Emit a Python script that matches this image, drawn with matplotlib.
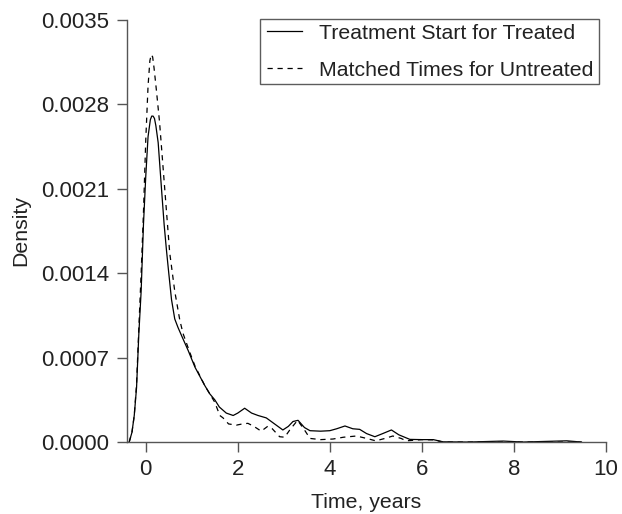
import matplotlib
matplotlib.use("Agg")
import matplotlib.pyplot as plt

plt.rcParams['font.family'] = ['Liberation Sans', 'DejaVu Sans']

# density curves (time in years)
treated_x = [-0.36, -0.30, -0.25, -0.20, -0.15, -0.10, -0.05, 0.00, 0.05, 0.10,
             0.13, 0.16, 0.19, 0.22, 0.27, 0.34, 0.40, 0.45, 0.50, 0.56, 0.63, 0.70,
             0.78, 0.92, 1.07, 1.28, 1.39, 1.50, 1.60, 1.75, 1.90, 2.00,
             2.15, 2.30, 2.44, 2.62, 2.80, 2.98, 3.10, 3.20, 3.31, 3.45,
             3.57, 3.80, 4.00, 4.15, 4.33, 4.50, 4.65, 4.80, 4.98, 5.15,
             5.34, 5.50, 5.74, 6.00, 6.25, 6.46, 7.00, 7.77, 8.20, 9.15, 9.47]
treated_y = [0.0, 0.00008, 0.00022, 0.00045, 0.0009, 0.00125, 0.0018, 0.0022, 0.00253, 0.00267,
             0.00270, 0.0027, 0.00268, 0.00262, 0.00248, 0.00211, 0.0018, 0.00159, 0.0014, 0.00118, 0.00102, 0.00095,
             0.00088, 0.00076, 0.00062, 0.00047, 0.0004, 0.00035, 0.00029, 0.00024, 0.00022, 0.00024,
             0.00028, 0.00024, 0.00022, 0.0002, 0.00015, 0.0001, 0.00013, 0.00017, 0.00018, 0.00012,
             0.000094, 0.00009, 0.000094, 0.00011, 0.000133, 0.00011, 0.000105, 0.00007, 0.000044, 0.00007,
             0.0001, 0.00006, 0.000022, 0.00002, 0.00002, 0.000002, 0.0, 0.000008, 0.0, 0.00001, 0.0]

untreated_x = [-0.36, -0.30, -0.25, -0.20, -0.15, -0.10, -0.05, 0.00, 0.05, 0.09,
               0.12, 0.15, 0.18, 0.23, 0.30, 0.41, 0.52, 0.63, 0.74, 0.81, 0.95, 1.07,
               1.28, 1.39, 1.50, 1.61, 1.68, 1.80, 1.97, 2.10, 2.22, 2.35,
               2.51, 2.65, 2.75, 2.91, 3.02, 3.13, 3.30, 3.45, 3.57, 3.80,
               4.07, 4.30, 4.58, 4.80, 5.00, 5.20, 5.37, 5.55, 5.66, 6.00,
               6.25, 6.46, 9.47]
untreated_y = [0.0, 0.00008, 0.00022, 0.00048, 0.00095, 0.0014, 0.0019, 0.0025, 0.00295, 0.00316,
               0.00321, 0.00319, 0.0031, 0.00292, 0.00265, 0.00211, 0.00157, 0.00125, 0.00101, 0.0009, 0.00075, 0.00063,
               0.00047, 0.0004, 0.00033, 0.00022, 0.0002, 0.00015, 0.00014, 0.00015, 0.000155, 0.00013,
               0.00009, 0.00013, 0.00011, 0.000044, 0.00004, 0.0001, 0.00018, 0.0001, 0.00003, 0.00002,
               0.000025, 0.00004, 0.00005, 0.00003, 0.00001, 0.00003, 0.00005, 0.00003, 0.00001, 0.00002,
               0.000018, 0.0, 0.0]

x_ticks = [0, 2, 4, 6, 8, 10]
y_ticks = [0.0, 0.0007, 0.0014, 0.0021, 0.0028, 0.0035]

fig = plt.figure(figsize=(6.22, 5.14), dpi=100)
ax = fig.add_axes([0.204, 0.140, 0.770, 0.822])

ax.plot(treated_x, treated_y, "-", color="black", lw=0.9, label="Treatment Start for Treated")
ax.plot(untreated_x, untreated_y, "--", color="black", lw=0.9, dashes=(4.2, 3.8),
        label="Matched Times for Untreated")

ax.set_xlim(-0.41, 10)
ax.set_ylim(0, 0.0035)
ax.set_xticks(x_ticks)
ax.set_xticklabels([str(t) for t in x_ticks])
ax.set_yticks(y_ticks)
ax.set_yticklabels(["%.4f" % t for t in y_ticks])

for s in ["top", "right"]:
    ax.spines[s].set_visible(False)
for s in ["left", "bottom"]:
    ax.spines[s].set_color("#555555")
    ax.spines[s].set_linewidth(1.0)
ax.tick_params(direction="out", length=7.5, width=1.0, color="#555555",
               labelsize=16, labelcolor="#222222", pad=5)

ax.set_xlabel("Time, years", fontsize=15.3, color="#222222", labelpad=9)
ax.set_ylabel("Density", fontsize=15.3, color="#222222", labelpad=8)

leg = ax.legend(loc="upper right", bbox_to_anchor=(0.978, 0.996), borderaxespad=0,
                fontsize=15.3, frameon=True, fancybox=False, handlelength=1.65,
                handletextpad=0.8, labelspacing=0.85, borderpad=0.11,
                labelcolor="#222222")
frame = leg.get_frame()
frame.set_edgecolor("#333333")
frame.set_linewidth(1.0)
# a little more room at the sides than at top and bottom
frame.set_boxstyle("square", pad=0.18)
frame.set_mutation_aspect(0.55)

fig.savefig("out.png", dpi=100)
